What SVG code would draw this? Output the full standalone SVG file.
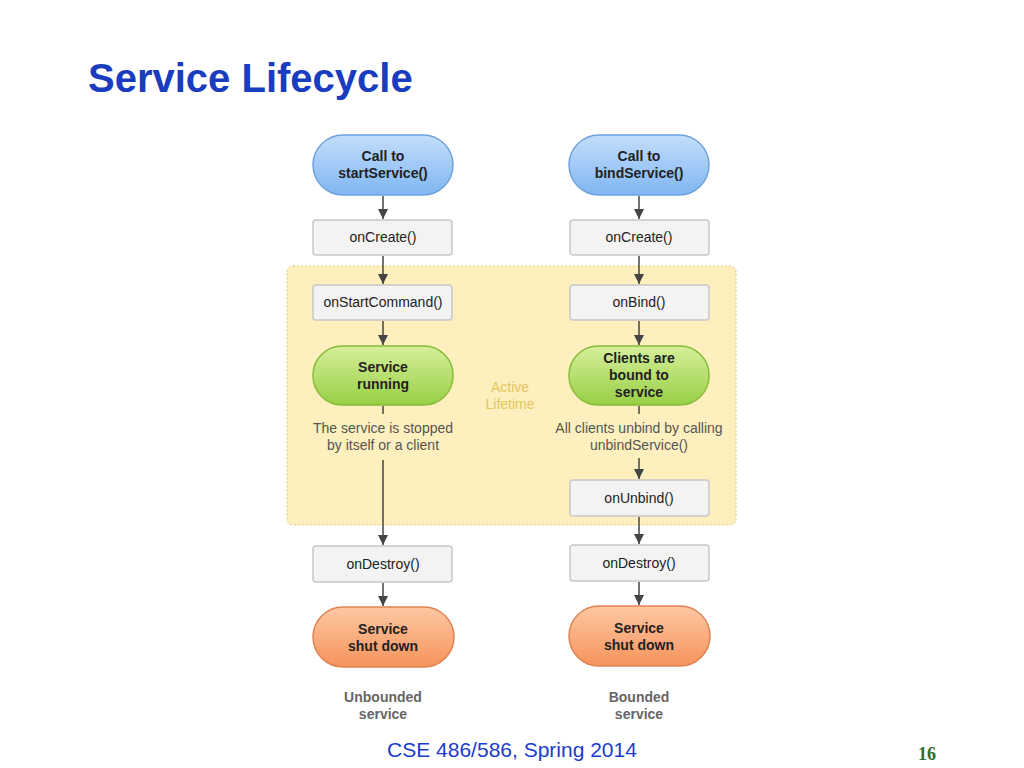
<svg xmlns="http://www.w3.org/2000/svg" width="1024" height="768" viewBox="0 0 1024 768">
<defs>
<linearGradient id="gb" x1="0" y1="0" x2="0" y2="1"><stop offset="0" stop-color="#c4defb"/><stop offset="1" stop-color="#7fb6f2"/></linearGradient>
<linearGradient id="gg" x1="0" y1="0" x2="0" y2="1"><stop offset="0" stop-color="#d6ef9a"/><stop offset="1" stop-color="#98cf45"/></linearGradient>
<linearGradient id="go" x1="0" y1="0" x2="0" y2="1"><stop offset="0" stop-color="#fdc8a4"/><stop offset="1" stop-color="#f6935a"/></linearGradient>
<marker id="ah" viewBox="0 0 10 10" refX="10" refY="5" markerWidth="10" markerHeight="10" markerUnits="userSpaceOnUse" orient="auto"><path d="M0,0L10,5L0,10z" fill="#444"/></marker>
<style>
.t{font-family:"Liberation Sans",Arial,sans-serif;font-size:14px;fill:#222;text-anchor:middle}
.b{font-weight:bold}
.box{fill:#f3f3f3;stroke:#c8c8c8;stroke-width:1.5}
.pb{fill:url(#gb);stroke:#6ea3de;stroke-width:1.5}
.pg{fill:url(#gg);stroke:#88bb3c;stroke-width:1.5}
.po{fill:url(#go);stroke:#e08455;stroke-width:1.5}
.c{stroke:#444;stroke-width:1.5;fill:none;marker-end:url(#ah)}
.g{font-family:"Liberation Sans",Arial,sans-serif;font-size:14px;fill:#555;text-anchor:middle}
</style>
</defs>
<rect width="1024" height="768" fill="#fff"/>
<text x="88" y="92" font-family="Liberation Sans,Arial,sans-serif" font-size="40" font-weight="bold" fill="#1a3cbf">Service Lifecycle</text>
<rect id="active" x="287" y="266" width="449" height="259" rx="6" fill="#fdf0be" stroke="#e0c86a" stroke-dasharray="2,2"/>
<text x="510" y="392" class="t" fill="#e3c560" style="fill:#e3c560">Active</text>
<text x="510" y="409" class="t" style="fill:#e3c560">Lifetime</text>
<g id="connectors">
<line x1="383" y1="196" x2="383" y2="219" class="c"/>
<line x1="383" y1="256" x2="383" y2="284" class="c"/>
<line x1="383" y1="321" x2="383" y2="345" class="c"/>
<line x1="383" y1="406" x2="383" y2="414" stroke="#444" stroke-width="1.5"/>
<line x1="383" y1="460" x2="383" y2="545" class="c"/>
<line x1="383" y1="583" x2="383" y2="606" class="c"/>
<line x1="639" y1="196" x2="639" y2="219" class="c"/>
<line x1="639" y1="256" x2="639" y2="284" class="c"/>
<line x1="639" y1="321" x2="639" y2="345" class="c"/>
<line x1="639" y1="406" x2="639" y2="414" stroke="#444" stroke-width="1.5"/>
<line x1="639" y1="458" x2="639" y2="479" class="c"/>
<line x1="639" y1="517" x2="639" y2="544" class="c"/>
<line x1="639" y1="582" x2="639" y2="605" class="c"/>
</g>
<g id="n1"><rect x="313" y="135" width="140" height="60" rx="30" class="pb"/><text x="383" y="161" class="t b">Call to</text><text x="383" y="178" class="t b">startService()</text></g>
<g id="n2"><rect x="313" y="220" width="139" height="35" rx="3" class="box"/><text x="383" y="242" class="t">onCreate()</text></g>
<g id="n3"><rect x="313" y="285" width="139" height="35" rx="3" class="box"/><text x="383" y="307" class="t">onStartCommand()</text></g>
<g id="n4"><rect x="313" y="346" width="140" height="59" rx="29" class="pg"/><text x="383" y="372" class="t b">Service</text><text x="383" y="389" class="t b">running</text></g>
<g id="n5"><text x="383" y="433" class="g">The service is stopped</text><text x="383" y="450" class="g">by itself or a client</text></g>
<g id="n6"><rect x="313" y="546" width="139" height="36" rx="3" class="box"/><text x="383" y="569" class="t">onDestroy()</text></g>
<g id="n7"><rect x="313" y="607" width="141" height="60" rx="30" class="po"/><text x="383" y="634" class="t b">Service</text><text x="383" y="651" class="t b">shut down</text></g>
<g id="n8"><text x="383" y="702" class="g b" style="fill:#666">Unbounded</text><text x="383" y="719" class="g b" style="fill:#666">service</text></g>
<g id="m1"><rect x="569" y="135" width="140" height="60" rx="30" class="pb"/><text x="639" y="161" class="t b">Call to</text><text x="639" y="178" class="t b">bindService()</text></g>
<g id="m2"><rect x="570" y="220" width="139" height="35" rx="3" class="box"/><text x="639" y="242" class="t">onCreate()</text></g>
<g id="m3"><rect x="570" y="285" width="139" height="35" rx="3" class="box"/><text x="639" y="307" class="t">onBind()</text></g>
<g id="m4"><rect x="569" y="346" width="140" height="59" rx="29" class="pg"/><text x="639" y="363" class="t b">Clients are</text><text x="639" y="380" class="t b">bound to</text><text x="639" y="397" class="t b">service</text></g>
<g id="m5"><text x="639" y="433" class="g">All clients unbind by calling</text><text x="639" y="450" class="g">unbindService()</text></g>
<g id="m6"><rect x="570" y="480" width="139" height="36" rx="3" class="box"/><text x="639" y="503" class="t">onUnbind()</text></g>
<g id="m7"><rect x="570" y="545" width="139" height="36" rx="3" class="box"/><text x="639" y="568" class="t">onDestroy()</text></g>
<g id="m8"><rect x="569" y="606" width="141" height="60" rx="30" class="po"/><text x="639" y="633" class="t b">Service</text><text x="639" y="650" class="t b">shut down</text></g>
<g id="m9"><text x="639" y="702" class="g b" style="fill:#666">Bounded</text><text x="639" y="719" class="g b" style="fill:#666">service</text></g>
<text x="512" y="757" text-anchor="middle" font-family="Liberation Sans,Arial,sans-serif" font-size="21" fill="#1a3cd0">CSE 486/586, Spring 2014</text>
<text x="927" y="760" text-anchor="middle" font-family="Liberation Serif,serif" font-size="18" font-weight="bold" fill="#2d6e2d">16</text>
</svg>
